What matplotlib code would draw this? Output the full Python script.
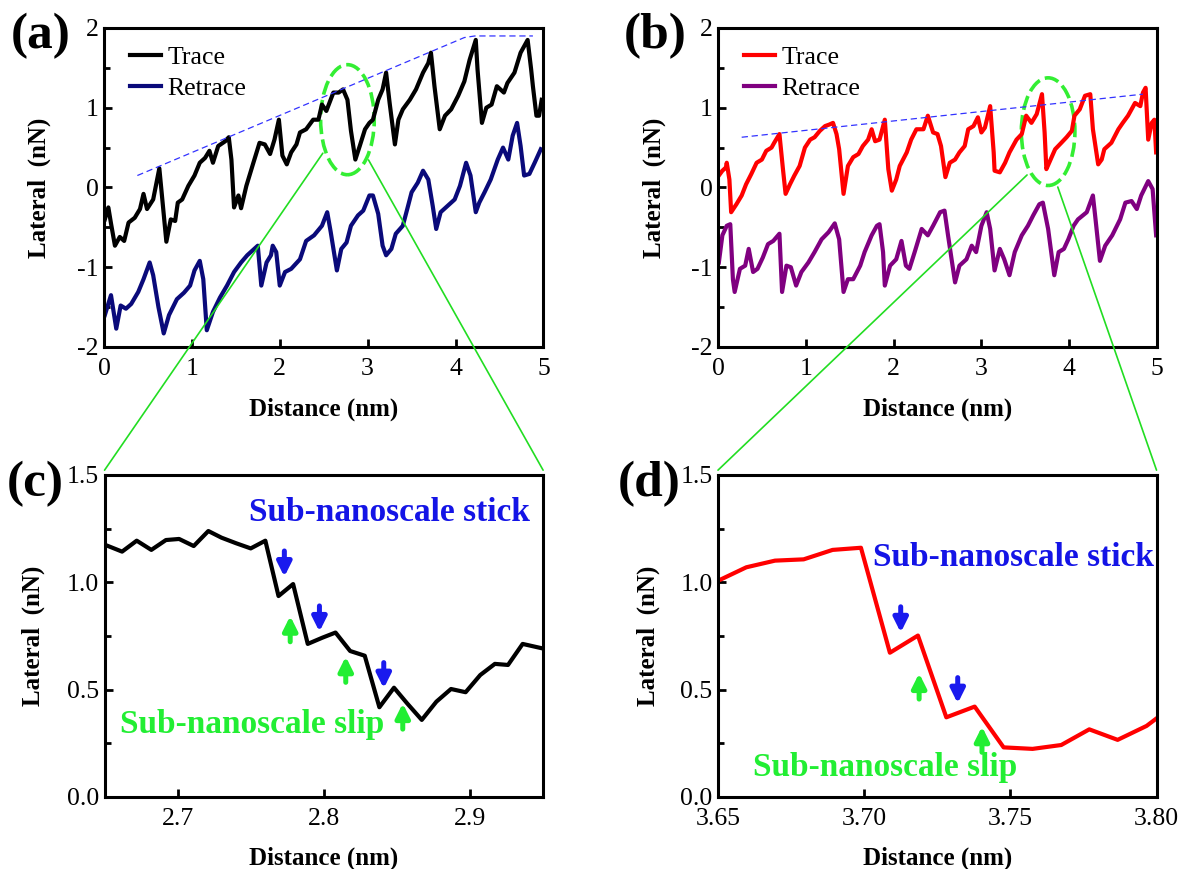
import numpy as np
import matplotlib
matplotlib.use('Agg')
import matplotlib.pyplot as plt
from matplotlib.patches import Ellipse, ConnectionPatch
from matplotlib.ticker import FormatStrFormatter

plt.rcParams['font.family'] = ['Liberation Serif', 'DejaVu Serif']
plt.rcParams['axes.unicode_minus'] = False

# ---- panel (a): full trace / retrace ----
a_trace_x = [0.01, 0.05, 0.08, 0.125, 0.18, 0.23, 0.28, 0.35, 0.41, 0.45, 0.49, 0.56, 0.63, 0.67,
             0.71, 0.76, 0.81, 0.84, 0.89, 0.96, 1.03, 1.09, 1.15, 1.20, 1.24, 1.30, 1.38, 1.42,
             1.45, 1.48, 1.53, 1.56, 1.62, 1.70, 1.77, 1.83, 1.89, 1.94, 1.99, 2.03, 2.08, 2.13,
             2.19, 2.23, 2.30, 2.38, 2.44, 2.48, 2.53, 2.61, 2.67, 2.72, 2.77, 2.81, 2.86, 2.91,
             2.97, 3.02, 3.06, 3.12, 3.17, 3.21, 3.25, 3.31, 3.35, 3.40, 3.48, 3.55, 3.63, 3.69,
             3.72, 3.76, 3.82, 3.88, 3.95, 4.03, 4.10, 4.16, 4.23, 4.25, 4.30, 4.35, 4.41, 4.47,
             4.55, 4.59, 4.67, 4.74, 4.82, 4.86, 4.88, 4.92, 4.95, 4.98]
a_trace_y = [-0.40, -0.25, -0.45, -0.73, -0.62, -0.67, -0.44, -0.38, -0.27, -0.08, -0.27, -0.15, 0.24, -0.22,
             -0.68, -0.40, -0.42, -0.19, -0.15, 0.02, 0.15, 0.31, 0.37, 0.46, 0.31, 0.52, 0.58, 0.63,
             0.35, -0.25, -0.10, -0.26, 0.02, 0.31, 0.56, 0.54, 0.42, 0.60, 0.85, 0.40, 0.29, 0.44,
             0.54, 0.69, 0.73, 0.85, 0.85, 1.04, 0.96, 1.19, 1.19, 1.23, 1.10, 0.71, 0.35, 0.52,
             0.73, 0.81, 0.85, 1.10, 1.23, 1.44, 1.06, 0.54, 0.85, 0.98, 1.10, 1.23, 1.44, 1.56,
             1.69, 1.27, 0.73, 0.90, 0.98, 1.15, 1.33, 1.60, 1.85, 1.48, 0.81, 1.00, 1.04, 1.27,
             1.19, 1.31, 1.44, 1.69, 1.85, 1.48, 1.27, 0.90, 0.90, 1.10]

a_retrace_x = [0.01, 0.08, 0.14, 0.19, 0.25, 0.31, 0.39, 0.45, 0.52, 0.56, 0.62, 0.68, 0.74, 0.83,
               0.91, 0.98, 1.03, 1.09, 1.13, 1.17, 1.24, 1.32, 1.40, 1.48, 1.56, 1.63, 1.75, 1.79,
               1.85, 1.90, 1.92, 1.96, 2.00, 2.06, 2.13, 2.23, 2.30, 2.39, 2.48, 2.54, 2.58, 2.65,
               2.70, 2.76, 2.81, 2.89, 2.95, 3.02, 3.06, 3.12, 3.17, 3.21, 3.27, 3.32, 3.40, 3.46,
               3.50, 3.57, 3.63, 3.69, 3.74, 3.78, 3.83, 3.91, 3.99, 4.05, 4.12, 4.17, 4.23, 4.27,
               4.33, 4.40, 4.48, 4.54, 4.60, 4.65, 4.70, 4.74, 4.78, 4.84, 4.90, 4.97]
a_retrace_y = [-1.60, -1.35, -1.77, -1.48, -1.52, -1.46, -1.31, -1.15, -0.94, -1.10, -1.50, -1.83, -1.60, -1.40,
               -1.32, -1.23, -1.04, -0.92, -1.15, -1.79, -1.56, -1.38, -1.23, -1.06, -0.94, -0.85, -0.73, -1.23,
               -0.94, -0.85, -0.73, -0.81, -1.23, -1.06, -1.02, -0.90, -0.67, -0.60, -0.48, -0.31, -0.56, -1.04,
               -0.77, -0.69, -0.48, -0.35, -0.29, -0.10, -0.10, -0.33, -0.73, -0.85, -0.77, -0.58, -0.48, -0.23,
               -0.06, 0.06, 0.21, 0.10, -0.23, -0.52, -0.31, -0.23, -0.15, 0.02, 0.31, 0.15, -0.31, -0.19,
               -0.06, 0.10, 0.35, 0.50, 0.35, 0.65, 0.81, 0.52, 0.15, 0.17, 0.31, 0.48]

a_env_x = [0.38, 4.10, 4.22, 4.88]
a_env_y = [0.15, 1.88, 1.90, 1.90]

# ---- panel (b) ----
b_trace_x = [0.01, 0.05, 0.09, 0.10, 0.13, 0.15, 0.21, 0.27, 0.32, 0.38, 0.44, 0.50, 0.55, 0.61,
             0.64, 0.70, 0.74, 0.77, 0.82, 0.87, 0.93, 0.99, 1.05, 1.10, 1.16, 1.22, 1.27, 1.31,
             1.35, 1.38, 1.43, 1.48, 1.54, 1.60, 1.65, 1.71, 1.75, 1.79, 1.84, 1.90, 1.94, 1.98,
             2.03, 2.07, 2.15, 2.20, 2.26, 2.34, 2.39, 2.45, 2.50, 2.54, 2.59, 2.64, 2.70, 2.75,
             2.81, 2.85, 2.91, 2.96, 3.00, 3.04, 3.10, 3.14, 3.15, 3.21, 3.27, 3.32, 3.40, 3.46,
             3.51, 3.57, 3.63, 3.69, 3.72, 3.74, 3.78, 3.84, 3.91, 3.97, 4.03, 4.06, 4.12, 4.18,
             4.24, 4.27, 4.33, 4.37, 4.40, 4.48, 4.56, 4.61, 4.67, 4.75, 4.81, 4.84, 4.87, 4.90,
             4.94, 4.97, 4.99]
b_trace_y = [0.15, 0.21, 0.25, 0.31, 0.10, -0.31, -0.21, -0.10, 0.04, 0.17, 0.31, 0.35, 0.46, 0.50,
             0.56, 0.67, 0.23, -0.08, 0.04, 0.15, 0.27, 0.50, 0.60, 0.63, 0.71, 0.77, 0.79, 0.81,
             0.67, 0.48, -0.08, 0.27, 0.38, 0.42, 0.52, 0.60, 0.73, 0.58, 0.60, 0.85, 0.23, -0.04,
             0.10, 0.27, 0.44, 0.60, 0.73, 0.73, 0.90, 0.69, 0.67, 0.52, 0.13, 0.31, 0.35, 0.44,
             0.52, 0.73, 0.77, 0.88, 0.69, 0.75, 1.02, 0.44, 0.21, 0.19, 0.31, 0.44, 0.60, 0.67,
             0.90, 0.81, 0.92, 1.17, 0.69, 0.23, 0.33, 0.48, 0.56, 0.63, 0.71, 0.90, 0.98, 1.15,
             1.17, 0.73, 0.29, 0.35, 0.48, 0.56, 0.73, 0.81, 0.90, 1.06, 1.02, 1.19, 1.25, 0.60,
             0.81, 0.85, 0.44]

b_retrace_x = [0.01, 0.05, 0.10, 0.14, 0.17, 0.19, 0.25, 0.31, 0.35, 0.40, 0.45, 0.51, 0.57, 0.63,
               0.70, 0.73, 0.78, 0.83, 0.89, 0.95, 1.03, 1.10, 1.18, 1.26, 1.33, 1.38, 1.43, 1.48,
               1.54, 1.62, 1.67, 1.75, 1.81, 1.84, 1.88, 1.90, 1.96, 2.03, 2.09, 2.14, 2.18, 2.24,
               2.32, 2.39, 2.45, 2.53, 2.58, 2.62, 2.70, 2.75, 2.83, 2.89, 2.94, 3.00, 3.06, 3.10,
               3.15, 3.21, 3.26, 3.32, 3.38, 3.46, 3.53, 3.59, 3.66, 3.70, 3.76, 3.83, 3.88, 3.94,
               3.99, 4.05, 4.10, 4.20, 4.27, 4.30, 4.35, 4.41, 4.49, 4.58, 4.64, 4.71, 4.77, 4.82,
               4.90, 4.95, 4.99]
b_retrace_y = [-0.94, -0.60, -0.48, -0.46, -1.15, -1.31, -1.02, -0.98, -0.77, -1.06, -1.02, -0.88, -0.71, -0.67,
               -0.58, -1.31, -0.98, -1.00, -1.23, -1.06, -0.94, -0.81, -0.65, -0.56, -0.45, -0.65, -1.31, -1.15,
               -1.15, -0.98, -0.81, -0.60, -0.48, -0.46, -0.81, -1.23, -0.98, -0.90, -0.67, -0.98, -1.02, -0.81,
               -0.52, -0.60, -0.48, -0.31, -0.29, -0.60, -1.19, -0.98, -0.90, -0.73, -0.81, -0.48, -0.31, -0.52,
               -1.04, -0.77, -0.90, -1.10, -0.81, -0.60, -0.48, -0.35, -0.21, -0.19, -0.52, -1.10, -0.81, -0.77,
               -0.65, -0.48, -0.40, -0.31, -0.10, -0.40, -0.92, -0.73, -0.60, -0.40, -0.19, -0.17, -0.27, -0.10,
               0.08, -0.02, -0.60]

b_env_x = [0.27, 4.84]
b_env_y = [0.63, 1.17]

# ---- panel (c): zoom of (a) ----
c_x = [2.6506, 2.662, 2.672, 2.682, 2.692, 2.701, 2.711, 2.721, 2.730, 2.740, 2.750, 2.760,
       2.769, 2.779, 2.789, 2.799, 2.808, 2.818, 2.828, 2.838, 2.848, 2.857, 2.867, 2.877,
       2.887, 2.897, 2.907, 2.917, 2.926, 2.936, 2.949]
c_y = [1.174, 1.143, 1.194, 1.151, 1.197, 1.202, 1.169, 1.239, 1.208, 1.182, 1.158, 1.194,
       0.936, 0.992, 0.713, 0.742, 0.766, 0.680, 0.658, 0.418, 0.509, 0.436, 0.359, 0.444,
       0.503, 0.488, 0.568, 0.620, 0.615, 0.713, 0.693]
c_stick_x = [2.773, 2.797, 2.841]
c_stick_y = [1.026, 0.770, 0.506]
c_slip_x = [2.777, 2.815, 2.854]
c_slip_y = [0.843, 0.654, 0.436]

# ---- panel (d): zoom of (b) ----
d_x = [3.6506, 3.6597, 3.6695, 3.6793, 3.6892, 3.6989, 3.7088, 3.7184, 3.7281, 3.7378,
       3.7477, 3.7576, 3.7674, 3.7770, 3.7867, 3.7966, 3.8000]
d_y = [1.011, 1.070, 1.101, 1.107, 1.151, 1.161, 0.672, 0.752, 0.371, 0.421,
       0.231, 0.224, 0.242, 0.315, 0.266, 0.331, 0.366]
d_stick_x = [3.7125, 3.732]
d_stick_y = [0.766, 0.436]
d_slip_x = [3.7188, 3.7403]
d_slip_y = [0.576, 0.328]

BLUE_T = '#1414e6'
GREEN_T = '#22ee33'
GREEN_L = '#22dd22'

fig = plt.figure(figsize=(11.84, 8.69), dpi=100)
ax_a = fig.add_axes([0.0878, 0.6007, 0.3712, 0.3671])
ax_b = fig.add_axes([0.6064, 0.6007, 0.3708, 0.3671])
ax_c = fig.add_axes([0.0883, 0.0829, 0.3704, 0.3705])
ax_d = fig.add_axes([0.6064, 0.0829, 0.3704, 0.3705])


def style(ax, ylab_x, xlab_y):
    for s in ax.spines.values():
        s.set_linewidth(2.2)
    ax.tick_params(which='both', direction='in', width=2, labelsize=18.5, top=False, right=False)
    ax.tick_params(which='major', length=6)
    ax.tick_params(which='minor', length=4)
    ax.tick_params(axis='x', pad=8)
    ax.tick_params(axis='y', pad=4)
    ax.set_xlabel('Distance (nm)', fontsize=18, fontweight='bold')
    ax.set_ylabel('Lateral  (nN)', fontsize=18, fontweight='bold')
    ax.yaxis.set_label_coords(ylab_x, 0.5)
    ax.xaxis.set_label_coords(0.5, xlab_y)


# (a)
ax_a.plot(a_trace_x, a_trace_y, color='black', lw=3.0, label='Trace')
ax_a.plot(a_retrace_x, a_retrace_y, color='#0a0a7a', lw=3.0, label='Retrace')
ax_a.plot(a_env_x, a_env_y, color='#3333ff', lw=0.9, ls=(0, (5, 3)))
ax_a.add_patch(Ellipse((2.77, 0.85), 0.61, 1.38, fill=False, ec='#33ee33', lw=2.6, ls=(0, (4, 1.5))))
ax_a.set_xlim(0, 5)
ax_a.set_ylim(-2, 2)
ax_a.set_xticks([0, 1, 2, 3, 4, 5])
ax_a.set_yticks([-2, -1, 0, 1, 2])
ax_a.set_yticks([-1.5, -0.5, 0.5, 1.5], minor=True)
style(ax_a, -0.120, -0.16)
ax_a.legend(loc='upper left', bbox_to_anchor=(0.019, 1.0), frameon=False, fontsize=18.5,
            handlelength=1.2, handletextpad=0.25, labelspacing=0.3, borderaxespad=0.3)

# (b)
ax_b.plot(b_trace_x, b_trace_y, color='#ff0000', lw=3.0, label='Trace')
ax_b.plot(b_retrace_x, b_retrace_y, color='#800080', lw=3.0, label='Retrace')
ax_b.plot(b_env_x, b_env_y, color='#3333ff', lw=0.9, ls=(0, (5, 3)))
ax_b.add_patch(Ellipse((3.76, 0.70), 0.61, 1.35, fill=False, ec='#33ee33', lw=2.6, ls=(0, (4, 1.5))))
ax_b.set_xlim(0, 5)
ax_b.set_ylim(-2, 2)
ax_b.set_xticks([0, 1, 2, 3, 4, 5])
ax_b.set_yticks([-2, -1, 0, 1, 2])
ax_b.set_yticks([-1.5, -0.5, 0.5, 1.5], minor=True)
style(ax_b, -0.118, -0.16)
ax_b.legend(loc='upper left', bbox_to_anchor=(0.019, 1.0), frameon=False, fontsize=18.5,
            handlelength=1.2, handletextpad=0.25, labelspacing=0.3, borderaxespad=0.3)


def arrows(ax, xs, tips, color, down, dy):
    for x, y in zip(xs, tips):
        tail = y + dy if down else y - dy
        ax.annotate('', xy=(x, y), xytext=(x, tail),
                    arrowprops=dict(arrowstyle='-|>', lw=3.6, color=color,
                                    mutation_scale=21, shrinkA=0, shrinkB=0))


# (c)
ax_c.plot(c_x, c_y, color='black', lw=3.0)
ax_c.set_xlim(2.65, 2.95)
ax_c.set_ylim(0, 1.5)
ax_c.set_xticks([2.7, 2.8, 2.9])
ax_c.set_yticks([0.0, 0.5, 1.0, 1.5])
ax_c.set_yticks([0.25, 0.75, 1.25], minor=True)
ax_c.yaxis.set_major_formatter(FormatStrFormatter('%.1f'))
style(ax_c, -0.135, -0.155)
arrows(ax_c, c_stick_x, c_stick_y, '#1a1aee', True, 0.12)
arrows(ax_c, c_slip_x, c_slip_y, GREEN_T, False, 0.12)
ax_c.text(0.97, 0.885, 'Sub-nanoscale stick', transform=ax_c.transAxes, ha='right', va='center',
          fontsize=24, fontweight='bold', color=BLUE_T)
ax_c.text(0.035, 0.224, 'Sub-nanoscale slip', transform=ax_c.transAxes, ha='left', va='center',
          fontsize=24, fontweight='bold', color=GREEN_T)

# (d)
ax_d.plot(d_x, d_y, color='#ff0000', lw=3.0)
ax_d.set_xlim(3.65, 3.80)
ax_d.set_ylim(0, 1.5)
ax_d.set_xticks([3.65, 3.70, 3.75, 3.80])
ax_d.set_yticks([0.0, 0.5, 1.0, 1.5])
ax_d.set_yticks([0.25, 0.75, 1.25], minor=True)
ax_d.xaxis.set_major_formatter(FormatStrFormatter('%.2f'))
ax_d.yaxis.set_major_formatter(FormatStrFormatter('%.1f'))
style(ax_d, -0.133, -0.155)
arrows(ax_d, d_stick_x, d_stick_y, '#1a1aee', True, 0.12)
arrows(ax_d, d_slip_x, d_slip_y, GREEN_T, False, 0.12)
ax_d.text(0.995, 0.745, 'Sub-nanoscale stick', transform=ax_d.transAxes, ha='right', va='center',
          fontsize=24, fontweight='bold', color=BLUE_T)
ax_d.text(0.08, 0.093, 'Sub-nanoscale slip', transform=ax_d.transAxes, ha='left', va='center',
          fontsize=24, fontweight='bold', color=GREEN_T)

# connector lines from the circled regions to the zoom panels
for src, pa, dst, pb in [(ax_a, (2.49, 0.43), ax_c, (0.0, 1.015)),
                         (ax_a, (3.01, 0.345), ax_c, (1.0, 1.015)),
                         (ax_b, (3.52, 0.157), ax_d, (0.0, 1.015)),
                         (ax_b, (3.87, 0.006), ax_d, (1.0, 1.015))]:
    con = ConnectionPatch(xyA=pa, coordsA='data', axesA=src, xyB=pb, coordsB='axes fraction',
                          axesB=dst, color=GREEN_L, lw=1.2)
    fig.add_artist(con)

# panel letters
for lbl, x, y in [('(a)', 0.009, 0.958), ('(b)', 0.527, 0.958), ('(c)', 0.006, 0.443), ('(d)', 0.522, 0.443)]:
    fig.text(x, y, lbl, fontsize=37, fontweight='bold', va='center', ha='left')

fig.savefig('out.png', dpi=100)
